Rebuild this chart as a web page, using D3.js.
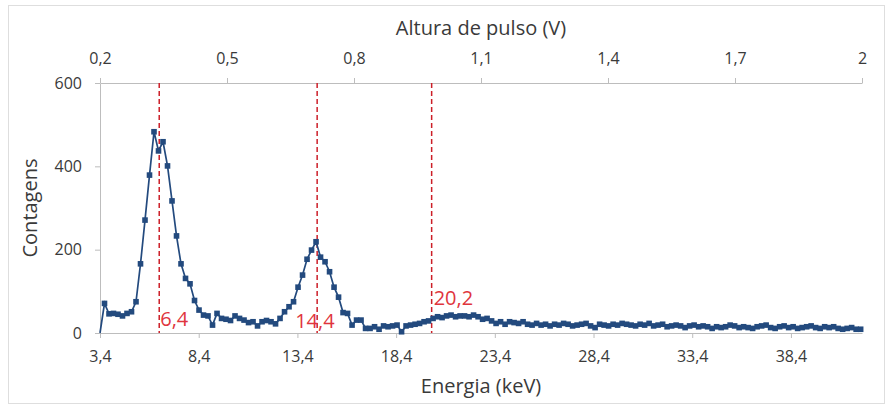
<!DOCTYPE html>
<html>
<head>
  <meta charset="utf-8">
  <style>
    body { margin: 0; background: #fff; }
    svg text { font-family: "Open Sans", sans-serif; }
  </style>
</head>
<body>
  <svg width="893" height="405"></svg>
  <script src="https://d3js.org/d3.v7.min.js"></script>
  <script>
    // energy grid of the spectrum (keV), first channel and channel width
    const energyStart = 3.4;
    const energyStep = 0.228;

    // counts per channel
    const counts = [
      0, 71, 46, 47, 45, 41, 47, 51, 75, 166,
      271, 379, 483, 437, 459, 401, 317, 233, 166, 131,
      118, 78, 55, 43, 41, 19, 47, 35, 33, 30,
      41, 35, 31, 25, 27, 17, 27, 30, 27, 22,
      35, 51, 63, 75, 110, 139, 177, 199, 219, 182,
      171, 147, 110, 86, 49, 47, 19, 31, 31, 11,
      11, 15, 9, 17, 15, 17, 19, 3, 17, 19,
      21, 23, 27, 29, 35, 39, 37, 41, 43, 39,
      41, 41, 39, 43, 39, 33, 35, 29, 23, 27,
      21, 27, 25, 23, 27, 21, 19, 23, 19, 21,
      17, 21, 19, 23, 21, 17, 19, 21, 23, 17,
      13, 21, 19, 17, 21, 19, 23, 21, 19, 17,
      21, 19, 23, 17, 19, 21, 15, 17, 19, 17,
      13, 17, 19, 15, 17, 15, 11, 15, 13, 15,
      19, 17, 13, 15, 13, 11, 15, 17, 19, 13,
      11, 15, 17, 13, 15, 11, 13, 15, 17, 13,
      11, 15, 13, 15, 11, 9, 11, 13, 9, 9
    ];

    // marked lines (keV)
    const peaks = [6.4, 14.4, 20.2];
    const peakLabels = ["6,4", "14,4", "20,2"];

    const energyTicks = [3.4, 8.4, 13.4, 18.4, 23.4, 28.4, 33.4, 38.4];
    const pulseTicks = [0.2, 0.5, 0.8, 1.1, 1.4, 1.7, 2.0];
    const countTicks = [0, 200, 400, 600];

    const width = 893;
    const height = 405;
    const margin = { top: 83, right: 31, bottom: 72, left: 100 };

    const svg = d3.select("svg")
        .attr("viewBox", [0, 0, width, height]);

    const pt = d3.formatLocale({ decimal: ",", thousands: ".", grouping: [3], currency: ["", ""] });
    const fmt = pt.format("~g");

    const x = d3.scaleLinear()
      .domain([3.4, 42.0])
      .range([margin.left, width - margin.right]);

    const xTop = d3.scaleLinear()
      .domain([0.2, 2.0])
      .range([margin.left, width - margin.right]);

    const y = d3.scaleLinear()
      .domain([0, 600])
      .range([height - margin.bottom, margin.top]);

    const data = counts.map((c, i) => ({ e: energyStart + i * energyStep, c }));

    // chart frame
    svg.append("rect")
      .attr("x", 8.5)
      .attr("y", 5.5)
      .attr("width", 876)
      .attr("height", 398)
      .attr("fill", "none")
      .attr("stroke", "#dedede");

    const axisColor = "#bdbdbd";
    const labelColor = "#3a3a3a";

    function styleAxis(g) {
      g.select(".domain").attr("stroke", axisColor);
      g.selectAll(".tick line").attr("stroke", axisColor);
      g.selectAll(".tick text")
        .attr("fill", labelColor)
        .attr("font-size", "16px")
        .attr("font-family", "'Open Sans', sans-serif");
    }

    svg.append("g")
      .attr("transform", `translate(0,${y(0)})`)
      .call(d3.axisBottom(x).tickValues(energyTicks).tickFormat(fmt).tickSize(5).tickSizeOuter(0).tickPadding(13))
      .call(styleAxis);

    svg.append("g")
      .attr("transform", `translate(0,${y(600)})`)
      .call(d3.axisTop(xTop).tickValues(pulseTicks).tickFormat(fmt).tickSize(5).tickSizeOuter(0).tickPadding(14))
      .call(styleAxis);

    svg.append("g")
      .attr("transform", `translate(${x(3.4)},0)`)
      .call(d3.axisLeft(y).tickValues(countTicks).tickSize(5).tickSizeOuter(0).tickPadding(13))
      .call(styleAxis);

    // axis titles
    const titles = svg.append("g")
      .attr("fill", labelColor)
      .attr("font-size", "20px")
      .attr("text-anchor", "middle");

    titles.append("text")
      .attr("x", (margin.left + width - margin.right) / 2)
      .attr("y", 35)
      .text("Altura de pulso (V)");

    titles.append("text")
      .attr("x", (margin.left + width - margin.right) / 2)
      .attr("y", 393)
      .text("Energia (keV)");

    titles.append("text")
      .attr("transform", `translate(37,${(y(0) + y(600)) / 2}) rotate(-90)`)
      .text("Contagens");

    // dashed reference lines
    svg.append("g")
      .selectAll("line")
      .data(peaks)
      .join("line")
      .attr("x1", d => x(d))
      .attr("x2", d => x(d))
      .attr("y1", y(600))
      .attr("y2", y(0))
      .attr("stroke", "#cc1f28")
      .attr("stroke-width", 1.5)
      .attr("stroke-dasharray", "5,3");

    const labelPos = [
      { dx: 1, y: 326 },
      { dx: -22, y: 328 },
      { dx: 2, y: 305 }
    ];

    svg.append("g")
      .attr("fill", "#e0353d")
      .attr("font-size", "20px")
      .selectAll("text")
      .data(peaks)
      .join("text")
      .attr("x", (d, i) => x(d) + labelPos[i].dx)
      .attr("y", (d, i) => labelPos[i].y)
      .text((d, i) => peakLabels[i]);

    // spectrum
    const blue = "#234a7e";

    svg.append("path")
      .datum(data)
      .attr("fill", "none")
      .attr("stroke", blue)
      .attr("stroke-width", 1.7)
      .attr("d", d3.line().x(d => x(d.e)).y(d => y(d.c)));

    svg.append("g")
      .attr("fill", blue)
      .selectAll("rect")
      .data(data.slice(1))
      .join("rect")
      .attr("x", d => x(d.e) - 2.8)
      .attr("y", d => y(d.c) - 2.8)
      .attr("width", 5.6)
      .attr("height", 5.6);
  </script>
</body>
</html>
